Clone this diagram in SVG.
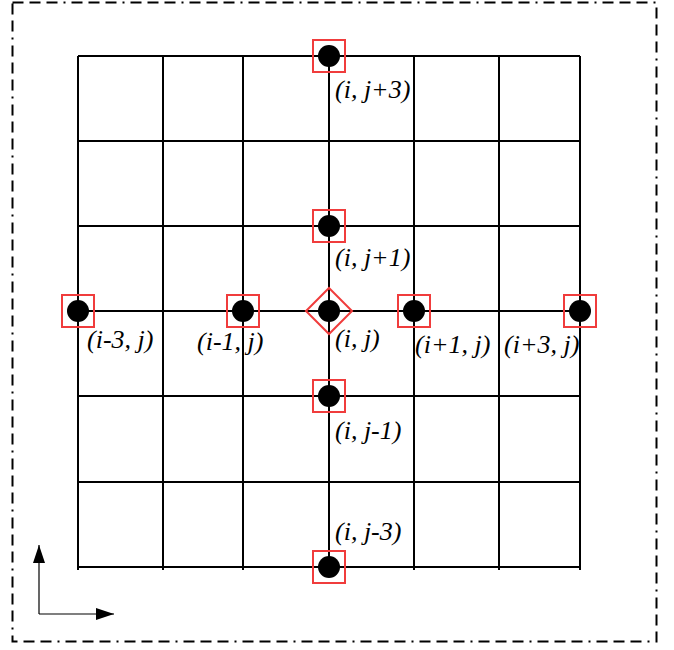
<svg xmlns="http://www.w3.org/2000/svg" width="674" height="650" viewBox="0 0 674 650">
<style>
.grid{stroke:#000;stroke-width:2;fill:none}
.dot{fill:#000}
.sq{fill:none;stroke:#f03c3c;stroke-width:2}
.lbl{font-family:"Liberation Serif","Times New Roman",serif;font-style:italic;font-size:26px;fill:#000}
.ax{stroke:#000;stroke-width:1.2;fill:none}
</style>
<defs>
<marker id="ah" markerWidth="18" markerHeight="12" refX="18" refY="6" orient="auto" markerUnits="userSpaceOnUse">
<path d="M0,0 L18,6 L0,12 Z" fill="#000"/>
</marker>
</defs>
<rect x="12.5" y="2.5" width="644" height="639" fill="none" stroke="#000" stroke-width="2" stroke-dasharray="11 6 11 6 11 6 2 6"/>
<g id="connectors">
<path class="grid" d="M78,56H580M78,141H580M78,226H580M78,311H580M78,396H580M78,482H580M78,567H580"/>
<path class="grid" d="M78,56V570M163,56V570M243,56V570M329,56V567M414,56V570M499,56V570M580,56V570"/>
<line class="ax" x1="39" y1="614" x2="39" y2="545" marker-end="url(#ah)"/>
<line class="ax" x1="39" y1="614" x2="114" y2="614" marker-end="url(#ah)"/>
</g>
<g id="n_ij3"><rect class="sq" x="313" y="40" width="32" height="32"/><circle class="dot" cx="329" cy="56" r="11"/><text class="lbl" x="335" y="98">(i, j+3)</text></g>
<g id="n_ij1"><rect class="sq" x="313" y="210" width="32" height="32"/><circle class="dot" cx="329" cy="226" r="11"/><text class="lbl" x="335" y="266">(i, j+1)</text></g>
<g id="n_im3"><rect class="sq" x="62" y="295" width="32" height="32"/><circle class="dot" cx="78" cy="311" r="11"/><text class="lbl" x="87" y="348">(i-3, j)</text></g>
<g id="n_im1"><rect class="sq" x="227" y="295" width="32" height="32"/><circle class="dot" cx="243" cy="311" r="11"/><text class="lbl" x="197" y="350">(i-1, j)</text></g>
<g id="n_ij"><path class="sq" d="M329,288L352,311L329,334L306,311Z"/><circle class="dot" cx="329" cy="311" r="11"/><text class="lbl" x="335" y="347">(i, j)</text></g>
<g id="n_ip1"><rect class="sq" x="398" y="295" width="32" height="32"/><circle class="dot" cx="414" cy="311" r="11"/><text class="lbl" x="415" y="353">(i+1, j)</text></g>
<g id="n_ip3"><rect class="sq" x="564" y="295" width="32" height="32"/><circle class="dot" cx="580" cy="311" r="11"/><text class="lbl" x="504" y="353">(i+3, j)</text></g>
<g id="n_ijm1"><rect class="sq" x="313" y="380" width="32" height="32"/><circle class="dot" cx="329" cy="396" r="11"/><text class="lbl" x="335" y="439">(i, j-1)</text></g>
<g id="n_ijm3"><rect class="sq" x="313" y="551" width="32" height="32"/><circle class="dot" cx="329" cy="567" r="11"/><text class="lbl" x="335" y="540">(i, j-3)</text></g>
</svg>
